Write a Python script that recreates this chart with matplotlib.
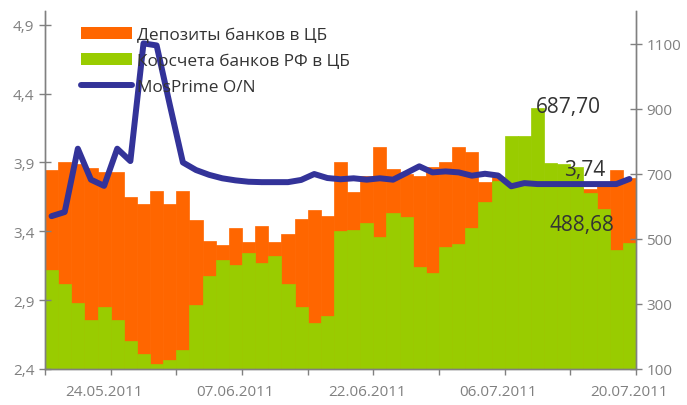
import matplotlib
matplotlib.use("Agg")
import matplotlib.pyplot as plt
from matplotlib.patches import Patch
from matplotlib.lines import Line2D
import numpy as np

plt.rcParams['font.family'] = ['Open Sans', 'DejaVu Sans']

# ---- data ----
date_labels = ["24.05.2011", "07.06.2011", "22.06.2011", "06.07.2011", "20.07.2011"]
date_label_idx = [4, 14, 24, 34, 44]

deposits = [711, 736, 730, 717, 705, 705, 629, 608, 647, 608,
            647, 558, 494, 482, 534, 491, 540, 491, 516, 561,
            589, 571, 736, 645, 693, 782, 714, 700, 693, 721,
            736, 782, 766, 676, 690, 670, 665, 660, 660, 655,
            655, 652, 668, 711, 687.70]

korscheta = [403, 360, 302, 250, 290, 250, 187, 146, 115, 128,
             159, 296, 385, 436, 419, 455, 425, 446, 360, 291,
             242, 262, 523, 526, 549, 506, 580, 568, 413, 394,
             474, 485, 534, 614, 678, 816, 816, 903, 734, 730,
             721, 642, 593, 465, 488.68]

mosprime = [3.51, 3.54, 4.00, 3.775, 3.73, 4.00, 3.91, 4.765, 4.75, 4.32,
            3.90, 3.845, 3.81, 3.785, 3.77, 3.76, 3.757, 3.757, 3.757, 3.773,
            3.816, 3.787, 3.778, 3.785, 3.775, 3.785, 3.775, 3.823, 3.872, 3.828,
            3.835, 3.828, 3.804, 3.818, 3.805, 3.727, 3.75, 3.743, 3.743, 3.743,
            3.743, 3.743, 3.743, 3.743, 3.78]

series_names = ["Депозиты банков в ЦБ", "Корсчета банков РФ в ЦБ", "MosPrime O/N"]
value_labels = ["687,70", "3,74", "488,68"]

ORANGE = "#FF6600"
GREEN = "#99CC00"
NAVY = "#333399"
GRAY = "#808080"
W, H = 687, 406

fig = plt.figure(figsize=(W/100, H/100), dpi=100)
ax = fig.add_axes([45/W, 1-370/H, (636-45)/W, (370-12)/H])
ax2 = ax.twinx()

x = np.arange(len(deposits))
ax2.bar(x, deposits, width=1.0, color=ORANGE, edgecolor=ORANGE, linewidth=0.5, zorder=1)
ax2.bar(x, korscheta, width=1.0, color=GREEN, edgecolor=GREEN, linewidth=0.5, zorder=2)
ax2.set_ylim(100, 1200)
ax2.set_yticks([100, 300, 500, 700, 900, 1100])

ax.plot(x, mosprime, color=NAVY, lw=4.3, solid_capstyle='round', solid_joinstyle='round', zorder=5)
ax.set_ylim(2.4, 5.0)
yt = [2.4, 2.9, 3.4, 3.9, 4.4, 4.9]
ax.set_yticks(yt)
ax.set_yticklabels([f"{v:.1f}".replace('.', ',') for v in yt])
ax.set_zorder(ax2.get_zorder() + 1)
ax.patch.set_visible(False)
ax.set_xlim(-0.5, len(deposits) - 0.5)

# x ticks
ax.set_xticks(np.arange(-0.5, len(deposits), 5))
ax.set_xticklabels([])
ax.set_xticks(date_label_idx, minor=True)
ax.set_xticklabels(date_labels, minor=True)
ax.tick_params(axis='x', which='major', direction='out', length=4, color=GRAY, width=1)
ax.tick_params(axis='x', which='minor', length=0, pad=11, labelsize=11, labelcolor=GRAY)
ax2.tick_params(axis='x', which='both', length=0)

ax.tick_params(axis='y', direction='inout', length=9, color=GRAY, width=1, labelsize=11, labelcolor=GRAY, pad=3)
ax2.tick_params(axis='y', direction='inout', length=9, color=GRAY, width=1, labelsize=11, labelcolor=GRAY, pad=3)

for a in (ax, ax2):
    a.spines['top'].set_visible(False)
    for s in ('left', 'right', 'bottom'):
        a.spines[s].set_color(GRAY)
        a.spines[s].set_linewidth(1)

# data labels (pixel positions from top-left)
fs_lab = 15
for (px, py), s in zip([(568, 108), (585, 171), (582, 226)], value_labels):
    fig.text(px/W, 1-py/H, s, fontsize=fs_lab, color="#333333", ha='center', va='center')

# legend
handles = [Patch(facecolor=ORANGE, edgecolor='none'),
           Patch(facecolor=GREEN, edgecolor='none'),
           Line2D([0], [0], color=NAVY, lw=4.3, solid_capstyle='round')]
leg = ax.legend(handles, series_names, loc='upper left', bbox_to_anchor=(0.05, 0.975),
                frameon=False, fontsize=12.4, handlelength=2.95, handleheight=0.7,
                handletextpad=0.3, labelspacing=0.58, borderaxespad=0)
for t in leg.get_texts():
    t.set_color("#333333")

fig.savefig("out.png", dpi=100)
